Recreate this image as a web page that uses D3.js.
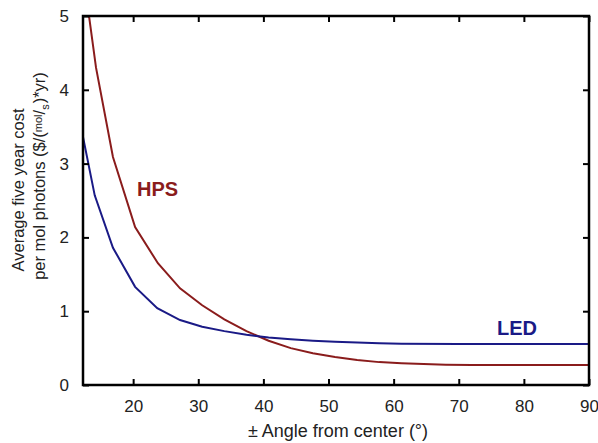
<!DOCTYPE html>
<html>
<head>
<meta charset="utf-8">
<script src="https://cdn.jsdelivr.net/npm/d3@7"></script>
<style>
  body { margin: 0; background: #fff; }
  text { font-family: "Liberation Sans", Arial, sans-serif; }
</style>
</head>
<body>
<div id="chart"></div>
<script>
// angle (deg) sample points and cost values
const hpsAngle = [12.3, 14.3, 16.9, 20.3, 23.8, 27.2, 30.6, 34, 37.4, 40.8, 44.2, 47.6, 51, 54.4, 57.8, 61.2, 64.6, 68, 72, 80, 90];
const hpsCost  = [5.6, 4.3, 3.09, 2.14, 1.65, 1.31, 1.08, 0.89, 0.73, 0.60, 0.50, 0.43, 0.38, 0.34, 0.31, 0.295, 0.285, 0.275, 0.27, 0.27, 0.27];
const ledAngle = [12.3, 14.1, 16.9, 20.3, 23.7, 27.2, 30.6, 34, 37.4, 40.8, 44.2, 47.6, 51, 54.4, 57.8, 61.2, 70, 90];
const ledCost  = [3.36, 2.57, 1.86, 1.33, 1.04, 0.88, 0.79, 0.73, 0.68, 0.645, 0.62, 0.60, 0.585, 0.575, 0.565, 0.558, 0.556, 0.556];
const xTicks = [20, 30, 40, 50, 60, 70, 80, 90];
const yTicks = [0, 1, 2, 3, 4, 5];

const width = 598;
const height = 443;
const plotLeft = 83, plotRight = 589, plotTop = 16, plotBottom = 385;

const svg = d3.select('#chart')
  .append('svg')
  .attr('width', width)
  .attr('height', height)

const x = d3.scaleLinear().domain([12.3, 90]).range([plotLeft, plotRight]);
const y = d3.scaleLinear().domain([0, 5]).range([plotBottom, plotTop]);

svg.append('defs').append('clipPath').attr('id', 'clip')
  .append('rect')
  .attr('x', plotLeft).attr('y', plotTop)
  .attr('width', plotRight - plotLeft).attr('height', plotBottom - plotTop)

const line = d3.line().x(d => x(d[0])).y(d => y(d[1]));

svg.append('path')
  .datum(hpsAngle.map((a, i) => [a, hpsCost[i]]))
  .attr('clip-path', 'url(#clip)')
  .attr('d', line)
  .attr('fill', 'none')
  .attr('stroke', '#8a1c1c')
  .attr('stroke-width', 2)

svg.append('path')
  .datum(ledAngle.map((a, i) => [a, ledCost[i]]))
  .attr('clip-path', 'url(#clip)')
  .attr('d', line)
  .attr('fill', 'none')
  .attr('stroke', '#1a1a86')
  .attr('stroke-width', 2)

// axes: ticks point inward, mirrored on top/right
const styleAxis = g => {
  g.select('.domain').remove();
  g.selectAll('line').attr('stroke', '#000').attr('stroke-width', 2);
  g.selectAll('text').attr('font-size', 17).attr('fill', '#222');
}

svg.append('g')
  .attr('transform', `translate(0, ${plotBottom})`)
  .call(d3.axisBottom(x).tickValues(xTicks).tickFormat(d3.format('d')).tickSizeInner(-6).tickPadding(15))
  .call(styleAxis)

svg.append('g')
  .attr('transform', `translate(0, ${plotTop})`)
  .call(d3.axisTop(x).tickValues(xTicks).tickSizeInner(-6).tickFormat(''))
  .call(styleAxis)

svg.append('g')
  .attr('transform', `translate(${plotLeft}, 0)`)
  .call(d3.axisLeft(y).tickValues(yTicks).tickFormat(d3.format('d')).tickSizeInner(-6).tickPadding(14))
  .call(styleAxis)

svg.append('g')
  .attr('transform', `translate(${plotRight}, 0)`)
  .call(d3.axisRight(y).tickValues(yTicks).tickSizeInner(-6).tickFormat(''))
  .call(styleAxis)

svg.append('rect')
  .attr('x', plotLeft).attr('y', plotTop)
  .attr('width', plotRight - plotLeft).attr('height', plotBottom - plotTop)
  .attr('fill', 'none')
  .attr('stroke', '#000')
  .attr('stroke-width', 2.5)

// series labels
svg.append('text')
  .attr('x', 137).attr('y', 196)
  .attr('font-size', 20).attr('font-weight', 'bold')
  .attr('fill', '#8a1c1c')
  .text('HPS')

svg.append('text')
  .attr('x', 497).attr('y', 335)
  .attr('font-size', 20).attr('font-weight', 'bold')
  .attr('fill', '#1a1a86')
  .text('LED')

// axis titles
svg.append('text')
  .attr('x', 338).attr('y', 437)
  .attr('text-anchor', 'middle')
  .attr('font-size', 18).attr('fill', '#222')
  .text('± Angle from center (°)')

const yTitle = svg.append('g')
  .attr('transform', 'translate(0, 190) rotate(-90)')

yTitle.append('text')
  .attr('x', 0).attr('y', 24)
  .attr('text-anchor', 'middle')
  .attr('font-size', 16.5).attr('fill', '#222')
  .text('Average five year cost')

const t2 = yTitle.append('text')
  .attr('x', 14).attr('y', 45)
  .attr('text-anchor', 'middle')
  .attr('font-size', 16.5).attr('fill', '#222')
t2.append('tspan').text('per mol photons ($/(')
t2.append('tspan').attr('font-size', 11).attr('dy', -3).text('mol')
t2.append('tspan').attr('dy', 3).text('/')
t2.append('tspan').attr('font-size', 11).attr('dy', 4).text('s')
t2.append('tspan').attr('dy', -4).attr('dx', 1).text(')*yr)')
</script>
</body>
</html>
